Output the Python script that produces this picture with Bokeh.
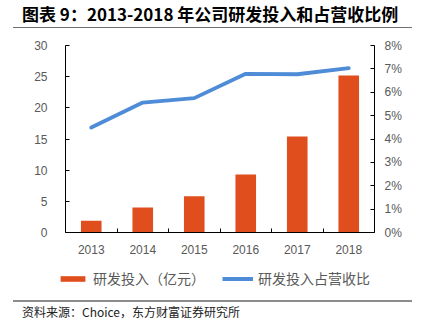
from bokeh.plotting import figure
from bokeh.models import (LinearAxis, Range1d, FixedTicker, NumeralTickFormatter,
                          Legend, LegendItem, Div)
from bokeh.layouts import column, row
from bokeh.embed import file_html
from bokeh.resources import INLINE

years = [2013, 2014, 2015, 2016, 2017, 2018]
rd_spend = [1.9, 4.0, 5.8, 9.3, 15.4, 25.2]          # 研发投入（亿元）
rd_ratio = [0.0449, 0.0556, 0.0575, 0.0679, 0.0677, 0.0703]  # 研发投入占营收比
left_ticks = [0, 5, 10, 15, 20, 25, 30]
right_ticks = [0, 0.01, 0.02, 0.03, 0.04, 0.05, 0.06, 0.07, 0.08]

title_text = "图表 9：2013-2018 年公司研发投入和占营收比例"
source_text = "资料来源：Choice，东方财富证券研究所"
bar_label = "研发投入（亿元）"
line_label = "研发投入占营收比"

BAR = "#E04E1E"
LINE = "#4F8CD8"
GREY = "#595959"
NUMFONT = "Liberation Sans"
CJK = "Noto Sans CJK SC"

# ---------------- main chart ----------------
p = figure(width=422, height=226, output_backend="svg", toolbar_location=None,
           x_range=Range1d(years[0] - 0.5, years[-1] + 0.5),
           y_range=Range1d(0, 30),
           min_border_left=65, min_border_right=48,
           min_border_top=11, min_border_bottom=28)
p.extra_y_ranges = {"pct": Range1d(0, 0.08)}
p.outline_line_color = None
p.grid.grid_line_color = None
p.background_fill_color = "white"
p.border_fill_color = "white"

p.vbar(x=years, top=rd_spend, width=0.4, color=BAR, line_color=None)
p.line(x=years, y=rd_ratio, y_range_name="pct", line_color=LINE,
       line_width=3.8, line_cap="round")

xa = p.xaxis[0]
xa.ticker = FixedTicker(ticks=years, minor_ticks=[y + 0.5 for y in [years[0] - 1] + years])
xa.major_label_overrides = {y: str(y) for y in years}
xa.major_tick_line_color = None
xa.minor_tick_in = 4
xa.minor_tick_out = 0
xa.minor_tick_line_color = "#000000"
xa.axis_line_color = "#000000"
xa.major_label_text_font = NUMFONT
xa.major_label_text_font_size = "12px"
xa.major_label_text_color = GREY
xa.major_label_standoff = 6

ya = p.yaxis[0]
ya.ticker = FixedTicker(ticks=left_ticks)
ya.major_tick_in = 4
ya.major_tick_out = 0
ya.minor_tick_line_color = None
ya.axis_line_color = "#000000"
ya.major_tick_line_color = "#000000"
ya.major_label_text_font = NUMFONT
ya.major_label_text_font_size = "12px"
ya.major_label_text_color = GREY
ya.major_label_standoff = 18

ra = LinearAxis(y_range_name="pct", ticker=FixedTicker(ticks=right_ticks),
                formatter=NumeralTickFormatter(format="0%"))
ra.major_tick_in = 4
ra.major_tick_out = 0
ra.minor_tick_line_color = None
ra.axis_line_color = "#000000"
ra.major_tick_line_color = "#000000"
ra.major_label_text_font = NUMFONT
ra.major_label_text_font_size = "12px"
ra.major_label_text_color = GREY
ra.major_label_standoff = 10
p.add_layout(ra, "right")

# ---------------- legend strip ----------------
lg = figure(width=422, height=40, output_backend="svg", toolbar_location=None,
            x_axis_type=None, y_axis_type=None,
            x_range=Range1d(years[0] - 0.5, years[-1] + 0.5),
            y_range=Range1d(1000, 1001),
            min_border=0, min_border_left=0, min_border_right=0,
            min_border_top=0, min_border_bottom=0)
lg.outline_line_color = None
lg.grid.grid_line_color = None
lb = lg.vbar(x=years, top=rd_spend, width=0.4, color=BAR, line_color=None)
ll = lg.line(x=years, y=rd_ratio, line_color=LINE, line_width=4)
legend = Legend(items=[LegendItem(label=bar_label, renderers=[lb]),
                       LegendItem(label=line_label, renderers=[ll])],
                orientation="horizontal", location=(57, 12),
                glyph_width=31, glyph_height=7, label_standoff=5, spacing=17,
                padding=0, margin=0, border_line_color=None,
                background_fill_alpha=0,
                label_text_font=CJK, label_text_font_size="14px",
                label_text_color=GREY)
lg.add_layout(legend, "center")

# ---------------- title (with rule) / source ----------------
title_html = (f'<div style="padding-left:9px;height:27px;line-height:27px;'
              f'font-family:\'{CJK}\';font-weight:bold;font-size:17px;color:#000;'
              f'white-space:nowrap">{title_text}</div>'
              f'<div style="width:399px;height:1px;background:#6f6f6f"></div>')
title = Div(text=title_html, width=399, height=34, margin=(0, 10, 0, 13),
            styles={"overflow": "visible", "position": "relative", "z-index": "5"})
footer = Div(text=source_text, width=399, height=27, margin=(0, 10, 0, 13),
             styles={"border-top": "2px solid #8c8c8c", "box-sizing": "border-box",
                     "padding-left": "9px", "line-height": "20px",
                     "font-family": CJK, "font-size": "12px",
                     "color": "#222222", "white-space": "nowrap"})

layout = column(title, p, row(lg, spacing=0), footer, spacing=0)
open("out.html", "w").write(file_html(layout, INLINE))
